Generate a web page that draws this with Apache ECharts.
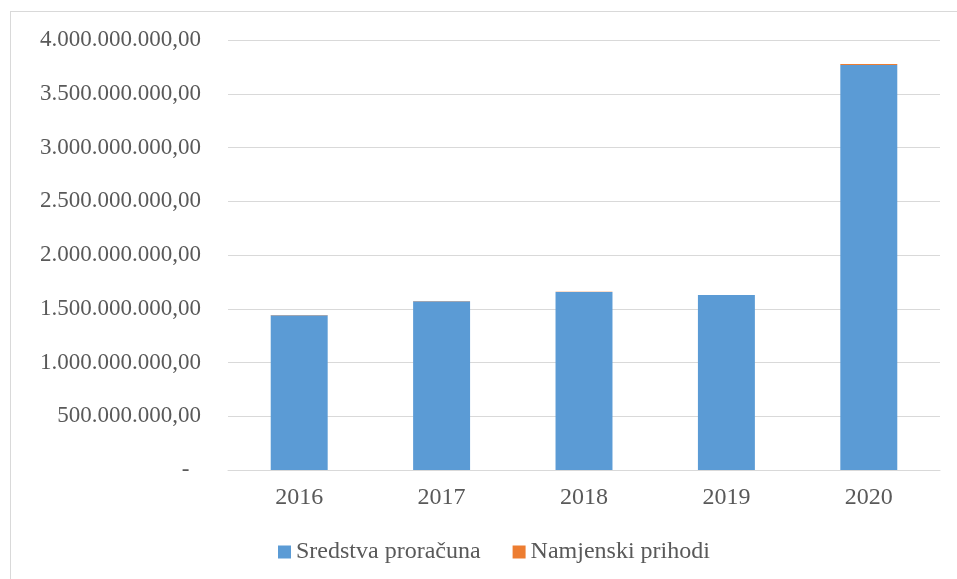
<!DOCTYPE html>
<html>
<head>
<meta charset="utf-8">
<script src="https://cdn.jsdelivr.net/npm/echarts@6/dist/echarts.min.js"></script>
<style>
  html, body { margin: 0; padding: 0; background: #fff; }
  #frame { position: absolute; left: 10px; top: 11px; width: 1000px; height: 1000px;
           border-left: 1px solid #d9d9d9; border-top: 1px solid #d9d9d9; }
  #chart { position: absolute; left: 0; top: 0; width: 957px; height: 579px; }
</style>
</head>
<body>
<div id="frame"></div>
<div id="chart"></div>
<script>
// godine
var years = ['2016', '2017', '2018', '2019', '2020'];
// iznosi po izvoru (procjena s grafa)
var sredstvaProracuna = [1440000000, 1570000000, 1655000000, 1627000000, 3768000000];
var namjenskiPrihodi = [2000000, 2000000, 2000000, 2000000, 9000000];

var textColor = '#595959';
var fontFam = 'Liberation Serif';

// 4000000000 -> 4.000.000.000,00, nula -> "-"
function formatHr(v) {
  if (v === 0) return '-  ';
  var s = Math.round(v).toString().replace(/\B(?=(\d{3})+(?!\d))/g, '.');
  return s + ',00';
}

var myChart = echarts.init(document.getElementById('chart'));
myChart.setOption({
  animation: false,
  color: ['#5B9BD5', '#ED7D31'],
  textStyle: { fontFamily: fontFam },
  grid: { left: 228, right: 17, top: 40, bottom: 109 },
  legend: {
    left: 273,
    bottom: 10,
    itemWidth: 13,
    itemHeight: 13,
    itemGap: 32,
    icon: 'rect',
    textStyle: { color: textColor, fontFamily: fontFam, fontSize: 24 },
    data: ['Sredstva proračuna', 'Namjenski prihodi']
  },
  xAxis: {
    type: 'category',
    data: years,
    axisLine: { lineStyle: { color: '#d9d9d9', width: 1 } },
    axisTick: { show: false },
    axisLabel: { color: textColor, fontFamily: fontFam, fontSize: 24, margin: 16 }
  },
  yAxis: {
    type: 'value',
    min: 0,
    max: 4000000000,
    interval: 500000000,
    axisLine: { show: false },
    axisTick: { show: false },
    splitLine: { lineStyle: { color: '#d9d9d9', width: 1 } },
    axisLabel: {
      color: textColor, fontFamily: fontFam, fontSize: 23, margin: 27,
      formatter: formatHr
    }
  },
  series: [
    {
      name: 'Sredstva proračuna',
      type: 'bar',
      stack: 'ukupno',
      barWidth: '40%',
      data: sredstvaProracuna
    },
    {
      name: 'Namjenski prihodi',
      type: 'bar',
      stack: 'ukupno',
      barWidth: '40%',
      data: namjenskiPrihodi
    }
  ]
});
</script>
</body>
</html>
